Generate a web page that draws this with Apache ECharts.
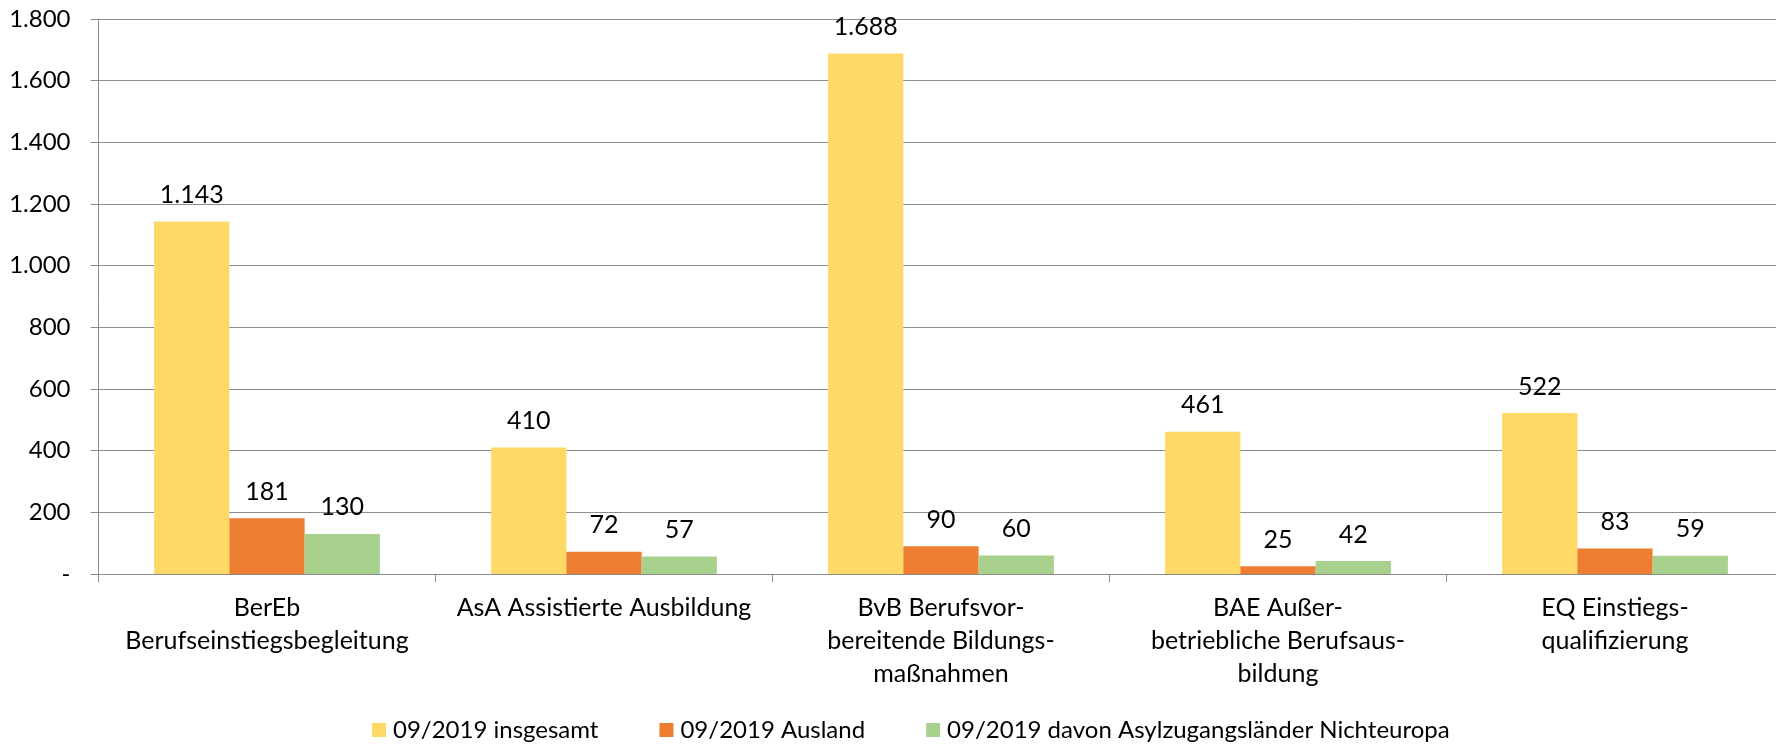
<!DOCTYPE html>
<html>
<head>
<meta charset="utf-8">
<style>html,body{margin:0;padding:0;background:#fff}#c{width:1776px;height:744px}</style>
<script src="https://cdn.jsdelivr.net/npm/echarts@6/dist/echarts.min.js"></script>
</head>
<body>
<div id="c"></div>
<script>
const categories = [
  "BerEb\nBerufseinstiegsbegleitung",
  "AsA Assistierte Ausbildung",
  "BvB Berufsvor-\nbereitende Bildungs-\nmaßnahmen",
  "BAE Außer-\nbetriebliche Berufsaus-\nbildung",
  "EQ Einstiegs-\nqualifizierung"
];
const seriesNames = ["09/2019 insgesamt", "09/2019 Ausland", "09/2019 davon Asylzugangsländer Nichteuropa"];
const insgesamt = [1143, 410, 1688, 461, 522];
const ausland = [181, 72, 90, 25, 83];
const asyl = [130, 57, 60, 42, 59];
const colors = ["#FFD966", "#ED7D31", "#A9D18E"];
const FONT = "Lato";

function fmt(v) {
  if (v === 0) return "-";
  return String(Math.round(v)).replace(/\B(?=(\d{3})+(?!\d))/g, ".");
}

const chart = echarts.init(document.getElementById('c'));
const mk = (name, data, color) => ({
  name, type: 'bar', data,
  itemStyle: { color },
  barGap: '0%', barCategoryGap: '33%',
  label: { show: true, position: 'top', distance: 14, color: '#000', fontFamily: FONT, fontSize: 25,
           formatter: p => fmt(p.value) }
});
chart.setOption({
  animation: false,
  textStyle: { fontFamily: FONT },
  legend: {
    top: 718, left: 372, itemWidth: 14, itemHeight: 14, itemGap: 61,
    icon: 'rect', padding: 0,
    textStyle: { fontFamily: FONT, fontSize: 24, color: '#000', padding: [0, 0, 0, 2] },
    data: seriesNames
  },
  grid: { left: 98.5, top: 19, width: 1685, height: 555, containLabel: false, outerBoundsMode: 'none' },
  xAxis: {
    type: 'category', data: categories,
    axisLine: { lineStyle: { color: '#8c8c8c', width: 1 } },
    axisTick: { show: true, length: 8, lineStyle: { color: '#8c8c8c' } },
    axisLabel: { color: '#000', fontFamily: FONT, fontSize: 25, lineHeight: 33, margin: 17, interval: 0 }
  },
  yAxis: {
    type: 'value', min: 0, max: 1800, interval: 200,
    axisLine: { show: true, lineStyle: { color: '#8c8c8c' } },
    axisTick: { show: true, length: 8, lineStyle: { color: '#8c8c8c' } },
    splitLine: { lineStyle: { color: '#8c8c8c', width: 1 } },
    axisLabel: { color: '#000', fontFamily: FONT, fontSize: 24, margin: 28, formatter: v => fmt(v) }
  },
  series: [mk(seriesNames[0], insgesamt, colors[0]), mk(seriesNames[1], ausland, colors[1]), mk(seriesNames[2], asyl, colors[2])]
});
</script>
</body>
</html>
